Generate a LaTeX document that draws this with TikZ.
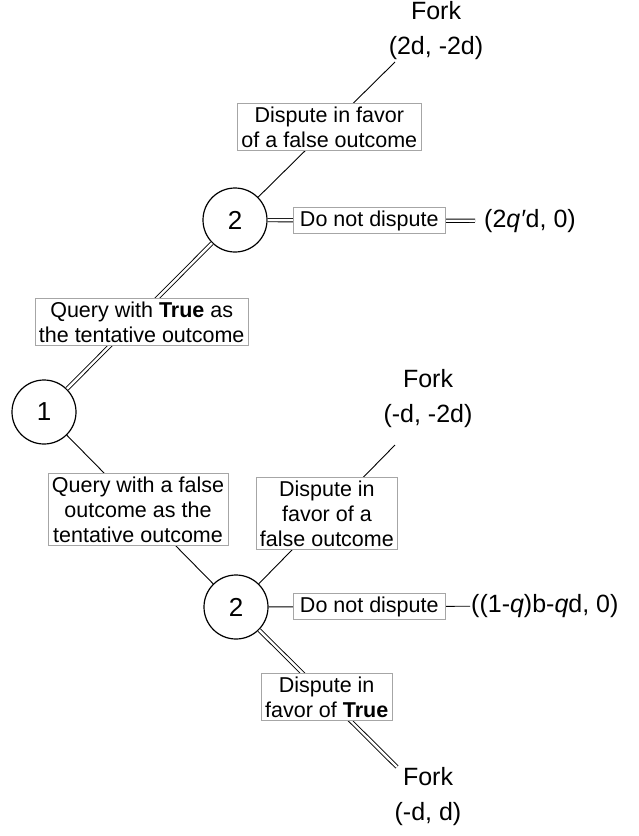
\documentclass[tikz,border=0pt]{standalone}
\usepackage{fontspec}
\setmainfont{Liberation Sans}
\begin{document}
\begin{tikzpicture}[x=1pt,y=-1pt,
  player/.style={circle,draw,line width=1.2pt,minimum size=64pt,inner sep=0pt,font=\fontsize{26}{30}\selectfont},
  lab/.style={draw=gray!70,line width=0.7pt,fill=white,align=center,inner xsep=4pt,inner ysep=3pt,font=\fontsize{21.5}{25}\selectfont},
  term/.style={align=center,inner sep=1pt,font=\fontsize{25}{35}\selectfont},
  single/.style={line width=0.9pt},
  dbl/.style={double,line width=0.9pt,double distance=2.4pt}]
\useasboundingbox (0,0) rectangle (639,836);
% players
\node[player] (n1) at (44,412) {1};
\node[player] (n2a) at (235,220) {2};
\node[player] (n2b) at (236,607) {2};
% free ends and terminal texts
\coordinate (f1) at (395,62);
\coordinate (f2) at (395,445);
\coordinate (f3) at (397,767);
\node[term] (t1) at (436,31) {Fork\\(2d, -2d)};
\node[term] (t2) at (428,399) {Fork\\(-d, -2d)};
\node[term] (t3) at (428,797) {Fork\\(-d, d)};
\node[term,anchor=west,inner xsep=9pt] (p1) at (475,221) {(2\textit{q′}d, 0)};
\node[term,anchor=west] (p2) at (470,606) {((1-\textit{q})b-\textit{q}d, 0)};
% connectors
\draw[dbl] (n1) -- node[lab,pos=0.46,xshift=8pt] {Query with \textbf{True} as\\the tentative outcome} (n2a);
\draw[single] (n1) -- node[lab,midway,xshift=-2pt] {Query with a false\\outcome as the\\tentative outcome} (n2b);
\draw[single] (n2a) -- node[lab,pos=0.52] {Dispute in favor\\of a false outcome} (f1);
\draw[dbl] (n2a) -- node[lab,midway,inner xsep=7pt,xshift=-2pt] {Do not dispute} (p1);
\draw[single] (n2b) -- node[lab,midway,yshift=1pt] {Dispute in\\favor of a\\false outcome} (f2);
\draw[single] (n2b) -- node[lab,midway,inner xsep=7pt] {Do not dispute} (p2);
\draw[dbl] (n2b) -- node[lab,pos=0.49] {Dispute in\\favor of \textbf{True}} (f3);
\end{tikzpicture}
\end{document}
